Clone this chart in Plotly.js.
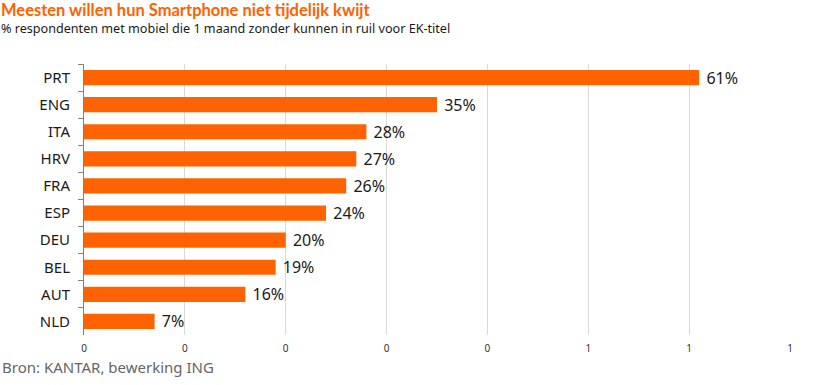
<!DOCTYPE html>
<html><head><meta charset="utf-8">
<script src="https://cdn.plot.ly/plotly-3.0.1.min.js"></script>
<style>html,body{margin:0;padding:0;background:#fff}#chart{width:823px;height:385px}</style>
</head><body><div id="chart"></div>
<script>
const countries = ["PRT","ENG","ITA","HRV","FRA","ESP","DEU","BEL","AUT","NLD"];
const shares = [0.61,0.35,0.28,0.27,0.26,0.24,0.20,0.19,0.16,0.07];
const xTickVals = [0,0.1,0.2,0.3,0.4,0.5,0.6,0.7];
const xTickText = ["0","0","0","0","0","1","1","1"];

const font = "'Noto Sans', 'Open Sans', sans-serif";
const trace = {
  type: "bar", orientation: "h",
  y: countries, x: shares,
  marker: {color: "#FF6200"},
  texttemplate: "\u00a0%{x:.0%}", textposition: "outside", constraintext: "none",
  textfont: {size: 16, color: "#1a1a1a", family: font},
  cliponaxis: false, hoverinfo: "none"
};
const layout = {
  width: 823, height: 385,
  margin: {l: 84, r: 33, t: 64, b: 50},
  paper_bgcolor: "#fff", plot_bgcolor: "#fff",
  font: {family: font, color: "#1a1a1a"},
  showlegend: false,
  bargap: 0.44,
  xaxis: {range: [0, 0.7], tickvals: xTickVals, ticktext: xTickText,
          showgrid: true, gridcolor: "#d9d9d9", gridwidth: 1, zeroline: false,
          showline: false, ticks: "", tickfont: {size: 10, color: "#333"}, ticklabelstandoff: 6},
  yaxis: {autorange: "reversed", type: "category", showline: true, linecolor: "#808080", linewidth: 1,
          ticks: "outside", tickson: "boundaries", ticklen: 5, tickcolor: "#808080",
          ticklabelstandoff: 10,
          tickfont: {size: 15, color: "#1a1a1a"}, showgrid: false},
  annotations: [
    {xref: "paper", yref: "paper", x: -84/706, y: 1 + 54/271, xanchor: "left", yanchor: "middle",
     text: "<b>Meesten willen hun Smartphone niet tijdelijk kwijt</b>", showarrow: false, borderpad: 0,
     font: {size: 16.5, color: "#FF6200", family: "Lato, 'Noto Sans', sans-serif"}},
    {xref: "paper", yref: "paper", x: -84/706, y: 1 + 35/271, xanchor: "left", yanchor: "middle",
     text: "% respondenten met mobiel die 1 maand zonder kunnen in ruil voor EK-titel", showarrow: false, borderpad: 0,
     font: {size: 12.6, color: "#1a1a1a", family: font}},
    {xref: "paper", yref: "paper", x: -84/706, y: -32/271, xanchor: "left", yanchor: "middle",
     text: "Bron: KANTAR, bewerking ING", showarrow: false,
     font: {size: 15, color: "#666", family: font}}
  ]
};
Plotly.newPlot("chart", [trace], layout, {staticPlot: true, displayModeBar: false});
</script></body></html>
